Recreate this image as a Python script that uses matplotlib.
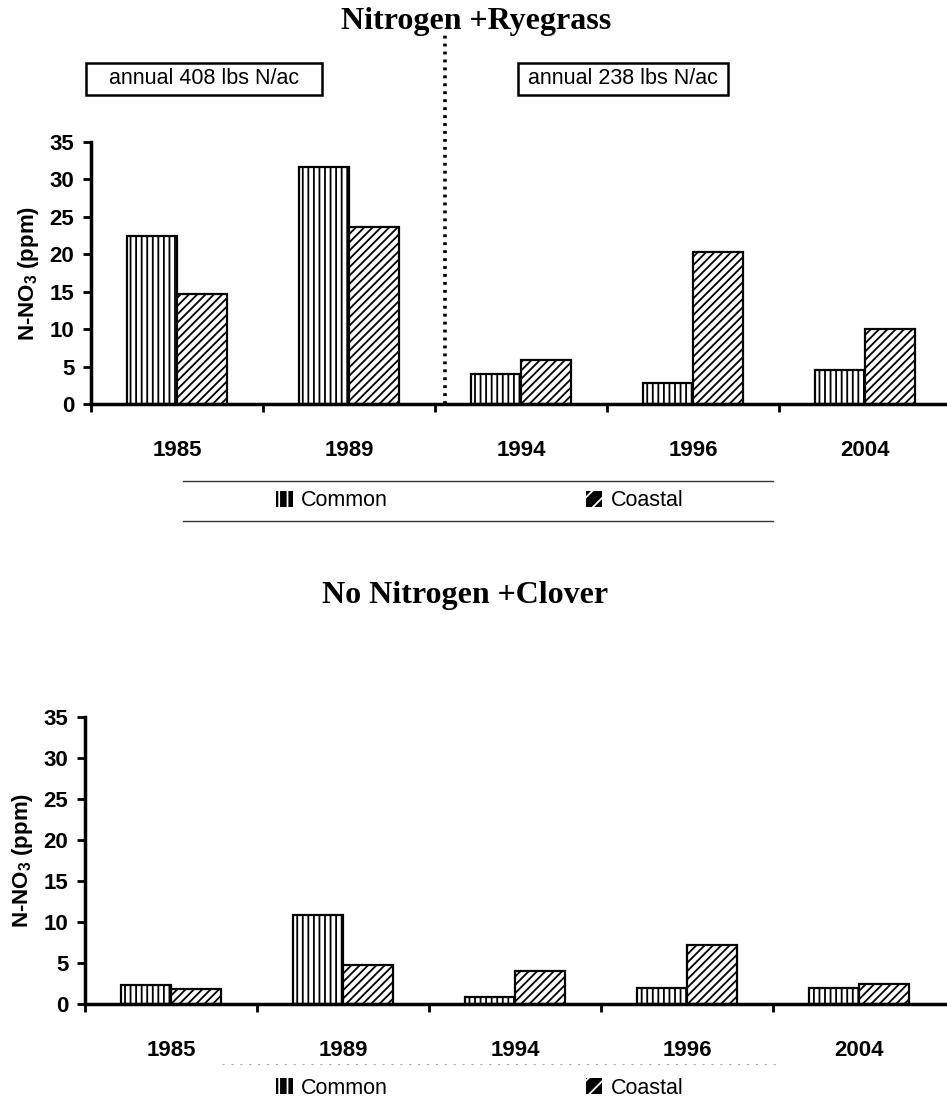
import numpy as np
import matplotlib
matplotlib.use("Agg")
import matplotlib.pyplot as plt
from matplotlib.patches import Patch, Rectangle
from matplotlib.lines import Line2D

plt.rcParams['font.family'] = ['Liberation Sans', 'DejaVu Sans']
plt.rcParams['hatch.linewidth'] = 1.3
plt.rcParams['mathtext.fontset'] = 'custom'
plt.rcParams['mathtext.bf'] = 'Liberation Sans:bold'
plt.rcParams['mathtext.default'] = 'bf'

# datos
years = ["1985", "1989", "1994", "1996", "2004"]
series = ["Common", "Coastal"]
rye_common = [22.5, 31.6, 4.0, 2.8, 4.5]
rye_coastal = [14.7, 23.6, 5.9, 20.3, 10.0]
clover_common = [2.3, 10.9, 0.9, 1.9, 1.9]
clover_coastal = [1.8, 4.8, 4.0, 7.2, 2.4]
box_texts = ["annual 408 lbs N/ac", "annual 238 lbs N/ac"]

W, H = 947, 1112
fig = plt.figure(figsize=(W / 100, H / 100), dpi=100)

hatches = ['|||', '////']
bw = 0.29


def bar_panel(ax, common, coastal):
    x = np.arange(len(years))
    ax.bar(x - bw / 2, common, bw, color='white', edgecolor='black',
           hatch=hatches[0], linewidth=1.6)
    ax.bar(x + bw / 2, coastal, bw, color='white', edgecolor='black',
           hatch=hatches[1], linewidth=1.6)
    ax.set_xlim(-0.5, 4.5)
    ax.set_ylim(0, 35)
    ax.set_yticks(np.arange(0, 36, 5))
    ax.set_xticks(x)
    ax.set_xticklabels(years, fontsize=16, fontweight='bold')
    ax.set_xticks(np.arange(-0.5, 4.0, 1.0), minor=True)
    ax.tick_params(axis='x', which='major', length=0, pad=26)
    ax.tick_params(axis='x', which='minor', length=6, width=2, direction='out')
    ax.tick_params(axis='y', length=6, width=2, pad=6, labelsize=16)
    for lab in ax.get_yticklabels():
        lab.set_fontweight('bold')
    for s in ['top', 'right']:
        ax.spines[s].set_visible(False)
    for s in ['left', 'bottom']:
        ax.spines[s].set_linewidth(2.5)
    ax.set_ylabel(r"N-NO$_3$ (ppm)", fontsize=16, fontweight='bold', labelpad=6)


ax1 = fig.add_axes([91 / W, 1 - 404 / H, 860 / W, 262 / H])
bar_panel(ax1, rye_common, rye_coastal)
ax1.axvline(1.558, ymin=0, ymax=(404 - 33) / 262, color='black', lw=2.6,
            linestyle=(0, (0.8, 1.4)), clip_on=False)

ax2 = fig.add_axes([85 / W, 1 - 1004 / H, 860 / W, 287 / H])
bar_panel(ax2, clover_common, clover_coastal)

fig.text(476 / W, 1 - 21 / H, "Nitrogen +Ryegrass", ha='center', va='center',
         fontsize=23, fontweight='bold', family='Liberation Serif')
fig.text(465 / W, 1 - 596 / H, "No Nitrogen +Clover", ha='center', va='center',
         fontsize=23, fontweight='bold', family='Liberation Serif')

# cajas de texto
for (x0, x1), txt in zip([(86, 322), (518, 728)], box_texts):
    fig.add_artist(Rectangle((x0 / W, 1 - 95 / H), (x1 - x0) / W, 32 / H,
                             transform=fig.transFigure, facecolor='white',
                             edgecolor='black', linewidth=1.8))
    fig.text((x0 + x1) / 2 / W, 1 - 79 / H, txt, ha='center', va='center',
             fontsize=15.5)

handles = [Patch(facecolor='black', edgecolor='white', hatch=h, linewidth=0)
           for h in ['||', '//']]

leg1 = fig.legend(handles, series, loc='center', bbox_to_anchor=(480 / W, 1 - 501 / H),
                  ncol=2, frameon=False, fontsize=15.5, handlelength=0.75,
                  handleheight=0.75, handletextpad=0.4, columnspacing=9.2)
fig.add_artist(Line2D([183 / W, 773 / W], [1 - 481 / H] * 2, color='#333333', lw=1.0))
fig.add_artist(Line2D([183 / W, 773 / W], [1 - 521 / H] * 2, color='#333333', lw=1.0))

leg2 = fig.legend(handles, series, loc='center', bbox_to_anchor=(480 / W, 1 - 1088 / H),
                  ncol=2, frameon=False, fontsize=15.5, handlelength=0.75,
                  handleheight=0.75, handletextpad=0.4, columnspacing=9.2)
fig.add_artist(Line2D([222 / W, 778 / W], [1 - 1064 / H] * 2, color='#aaaaaa', lw=0.8,
                      linestyle=(0, (2, 6))))

plt.savefig("out.png", dpi=100)
